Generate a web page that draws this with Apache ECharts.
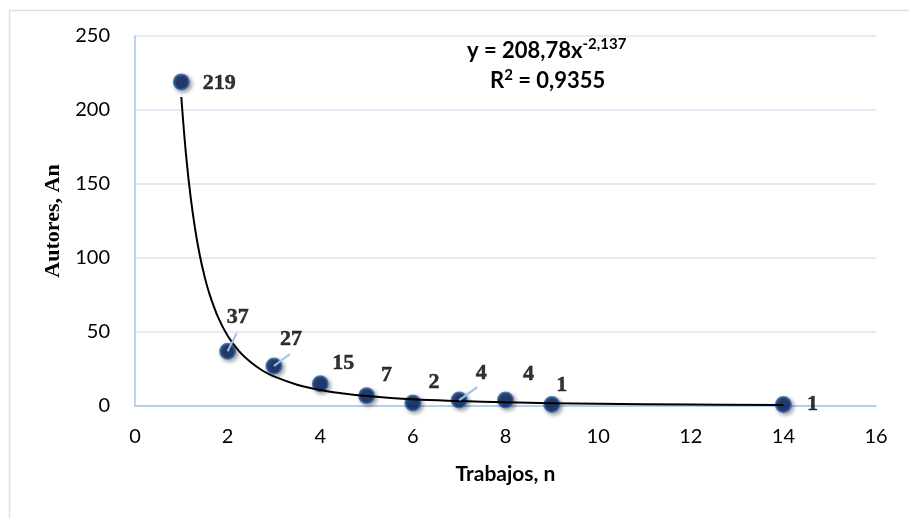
<!DOCTYPE html>
<html>
<head>
<meta charset="utf-8">
<script src="https://cdn.jsdelivr.net/npm/echarts@6/dist/echarts.min.js"></script>
<style>html,body{margin:0;padding:0;background:#fff}#c{width:909px;height:518px}</style>
</head>
<body>
<div id="c"></div>
<script>
// Data
var trabajos = [1, 2, 3, 4, 5, 6, 7, 8, 9, 14];
var autores = [219, 37, 27, 15, 7, 2, 4, 4, 1, 1];
// Power trend line as drawn (readings along the curve)
var trendX = [1, 1.1, 1.2, 1.3, 1.4, 1.5, 1.6, 1.8, 2, 2.25, 2.5, 2.75, 3, 3.5, 4, 4.5, 5, 6, 7, 8, 9, 10, 12, 14];
var trendY = [208.8, 170.3, 141.4, 119.2, 101.7, 87.8, 76.5, 59.5, 47.5, 36.9, 29.5, 24.0, 20.0, 14.4, 10.8, 8.4, 6.7, 4.5, 3.3, 2.45, 1.9, 1.52, 1.03, 0.74];
var xTicks = [0, 2, 4, 6, 8, 10, 12, 14, 16];
var yTicks = [0, 50, 100, 150, 200, 250];

var labelOffsets = [[38, 1], [10, -34], [17, -27], [23, -20], [20, -20], [21, -21], [22, -27], [23, -26], [10, -19], [29, 0]];
var leaderEnds = [null, [9, -18], [16, -12], null, null, null, [18, -13], null, null, null];

var chart = echarts.init(document.getElementById('c'));
var scatterData = trabajos.map(function (x, i) {
  return { value: [x, autores[i]], label: { offset: labelOffsets[i] } };
});
var trendData = trendX.map(function (x, i) { return [x, trendY[i]]; });

var baseGraphic = [
  { id: 'border', type: 'rect', left: 7, top: 8, shape: { width: 930, height: 540 }, style: { fill: 'none', stroke: '#d6e0ee', lineWidth: 1.5 }, z: -10 },
  {
    id: 'eq1', type: 'text', left: 467, top: 37,
    style: {
      text: '{b|y = 208,78x}{s|-2,137}', rich: {
        b: { fontFamily: 'Lato', fontWeight: 'bold', fontSize: 22, fill: '#000' },
        s: { fontFamily: 'Lato', fontWeight: 'bold', fontSize: 15, fill: '#000', padding: [0, 0, 12, 0] }
      }
    }, z: 50
  },
  {
    id: 'eq2', type: 'text', left: 490, top: 68,
    style: {
      text: '{b|R}{s|2}{b| = 0,9355}', rich: {
        b: { fontFamily: 'Lato', fontWeight: 'bold', fontSize: 22, fill: '#000' },
        s: { fontFamily: 'Lato', fontWeight: 'bold', fontSize: 15, fill: '#000', padding: [0, 0, 10, 0] }
      }
    }, z: 50
  }
];

chart.setOption({
  animation: false,
  grid: { left: 135, right: 33, top: 36, bottom: 112 },
  xAxis: {
    type: 'value', min: 0, max: 16, interval: 2,
    axisLine: { show: true, lineStyle: { color: '#a9c4eb', width: 1.5 } },
    axisTick: { show: false },
    splitLine: { show: false },
    axisLabel: { color: '#000', fontFamily: 'Lato', fontSize: 20, margin: 21 },
    name: 'Trabajos, n', nameLocation: 'middle', nameGap: 58,
    nameTextStyle: { color: '#000', fontFamily: 'Lato', fontWeight: 'bold', fontSize: 21 }
  },
  yAxis: {
    type: 'value', min: 0, max: 250, interval: 50,
    axisLine: { show: true, lineStyle: { color: '#a9c4eb', width: 1.5 } },
    axisTick: { show: false },
    splitLine: { show: true, lineStyle: { color: '#d9e5f5', width: 1.5 } },
    axisLabel: { color: '#000', fontFamily: 'Lato', fontSize: 20, margin: 25 },
    name: 'Autores, An', nameLocation: 'middle', nameGap: 71,
    nameTextStyle: { color: '#000', fontFamily: 'Liberation Serif', fontWeight: 'bold', fontSize: 22 }
  },
  graphic: baseGraphic,
  series: [
    {
      type: 'scatter', data: scatterData, symbolSize: 15, z: 2,
      itemStyle: { color: '#002060', borderColor: '#2f5fa8', borderWidth: 2, shadowColor: 'rgba(0,0,0,0.45)', shadowBlur: 4, shadowOffsetX: 2, shadowOffsetY: 2 },
      label: {
        show: true, position: 'inside', color: '#000', fontFamily: 'Liberation Serif', fontWeight: 'bold', fontSize: 22,
        textBorderColor: '#000', textBorderWidth: 0.5, textShadowBlur: 0,
        formatter: function (p) { return p.value[1]; }
      }
    },
    {
      type: 'line', data: trendData, smooth: 0.4, symbol: 'none', z: 3,
      lineStyle: { color: '#000', width: 2 }
    }
  ]
});

// leader lines from points towards their labels
var lines = baseGraphic.slice();
trabajos.forEach(function (x, i) {
  var e = leaderEnds[i];
  if (!e) return;
  var p = chart.convertToPixel({ gridIndex: 0 }, [x, autores[i]]);
  lines.push({ id: 'lead' + i, type: 'line', shape: { x1: p[0], y1: p[1], x2: p[0] + e[0], y2: p[1] + e[1] }, style: { stroke: '#9dc3e6', lineWidth: 2 }, z: 4 });
});
chart.setOption({ graphic: lines });
</script>
</body>
</html>
